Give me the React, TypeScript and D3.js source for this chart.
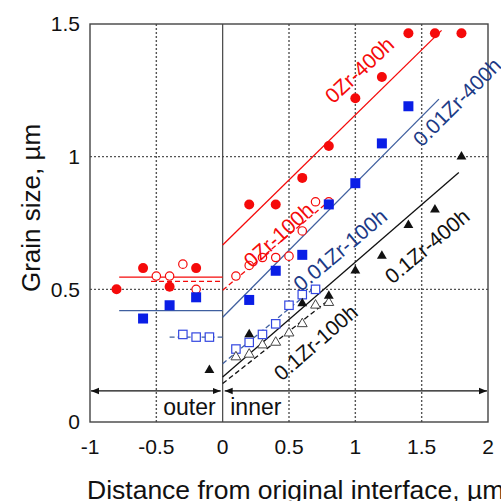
import React from "react";
import * as d3 from "d3";

// ---- data ----
const xTicks = [-1, -0.5, 0, 0.5, 1, 1.5, 2];
const yTicks = [0, 0.5, 1, 1.5];
const xGrid = [-0.5, 0.5, 1, 1.5];
const yGrid = [0.5, 1];

const zr0_400_x = [-0.8, -0.6, -0.4, -0.2, 0.2, 0.4, 0.6, 0.8, 1.0, 1.2, 1.4, 1.6, 1.8];
const zr0_400_y = [0.5, 0.58, 0.51, 0.58, 0.82, 0.82, 0.92, 1.04, 1.22, 1.3, 1.465, 1.465, 1.465];

const zr0_100_x = [-0.5, -0.4, -0.3, -0.2, 0.1, 0.2, 0.3, 0.4, 0.5, 0.6, 0.7, 0.8];
const zr0_100_y = [0.55, 0.55, 0.595, 0.5, 0.55, 0.59, 0.62, 0.62, 0.625, 0.72, 0.83, 0.83];

const zr001_400_x = [-0.6, -0.4, -0.2, 0.2, 0.4, 0.6, 0.8, 1.0, 1.2, 1.4];
const zr001_400_y = [0.39, 0.44, 0.47, 0.46, 0.57, 0.63, 0.82, 0.9, 1.05, 1.19];

const zr001_100_x = [-0.3, -0.2, -0.1, 0.1, 0.2, 0.3, 0.4, 0.5, 0.6, 0.7];
const zr001_100_y = [0.33, 0.32, 0.32, 0.275, 0.3, 0.33, 0.37, 0.44, 0.48, 0.5];

const zr01_400_x = [-0.1, 0.2, 0.6, 0.8, 1.0, 1.2, 1.4, 1.6, 1.8];
const zr01_400_y = [0.195, 0.33, 0.447, 0.475, 0.57, 0.626, 0.742, 0.8, 1.0];

const zr01_100_x = [0.1, 0.2, 0.3, 0.4, 0.5, 0.6, 0.7, 0.8];
const zr01_100_y = [0.245, 0.255, 0.29, 0.3, 0.335, 0.37, 0.44, 0.45];

// fit lines: [x1, y1, x2, y2]
const fit0_400_out = [-0.78, 0.546, 0, 0.546];
const fit0_400_in = [0, 0.667, 1.65, 1.476];
const fit0_100_out = [-0.54, 0.53, 0, 0.53];
const fit0_100_in = [0, 0.497, 0.82, 0.84];
const fit001_400_out = [-0.78, 0.42, 0, 0.42];
const fit001_400_in = [0, 0.395, 1.63, 1.217];
const fit001_100_out = [-0.4, 0.32, 0, 0.32];
const fit001_100_in = [0, 0.22, 0.7, 0.51];
const fit01_400_in = [0, 0.17, 1.78, 0.94];
const fit01_100_in = [0, 0.145, 0.8, 0.46];

const labelTexts = ["0Zr-400h", "0Zr-100h", "0.01Zr-400h", "0.01Zr-100h", "0.1Zr-400h", "0.1Zr-100h"];
const labelX = [1.03, 0.42, 1.765, 0.885, 1.54, 0.7];
const labelY = [1.327, 0.705, 1.206, 0.649, 0.663, 0.3];
const labelAngle = [-43, -42, -45, -40, -40, -41];

const arrowY = 0.117;
const regionLabels = ["outer", "inner"];
const regionX = [-0.25, 0.25];

const RED = "#f50a0a";
const BLUE_M = "#0a1ee6";
const BLUE_O = "#3347e0";
const BLUE_L = "#3f5f9f";
const BLUE_T = "#1c3a86";
const BLK = "#111";
const FONT = "'Liberation Sans', Arial, Helvetica, sans-serif";

const x = d3.scaleLinear().domain([-1, 2]).range([90, 488]);
const y = d3.scaleLinear().domain([0, 1.5]).range([422, 24]);

function Line({ f, color, dash }: { f: number[]; color: string; dash?: boolean }) {
  return (
    <line
      x1={x(f[0])}
      y1={y(f[1])}
      x2={x(f[2])}
      y2={y(f[3])}
      stroke={color}
      strokeWidth={1.3}
      strokeDasharray={dash ? "5,3" : undefined}
    />
  );
}

function pts(xs: number[], ys: number[]) {
  return xs.map((v, i) => [x(v), y(ys[i])]);
}

const tri = d3.symbol().type(d3.symbolTriangle).size(42);

export default function App() {
  return (
    <svg
      width={501}
      height={501}
      style={{ position: "absolute", left: 0, top: 0, background: "#fff" }}
      fontFamily={FONT}
    >
      <rect width={501} height={501} fill="#fff" />
      {/* grid */}
      {xGrid.map((g) => (
        <line key={"gx" + g} x1={x(g)} x2={x(g)} y1={y(0)} y2={y(1.5)} stroke="#555" strokeWidth={1.4} strokeDasharray="2,2" />
      ))}
      {yGrid.map((g) => (
        <line key={"gy" + g} x1={x(-1)} x2={x(2)} y1={y(g)} y2={y(g)} stroke="#555" strokeWidth={1.4} strokeDasharray="2,2" />
      ))}
      <line x1={x(0)} x2={x(0)} y1={y(0)} y2={y(1.5)} stroke="#444" strokeWidth={1.2} />
      <rect x={x(-1)} y={y(1.5)} width={x(2) - x(-1)} height={y(0) - y(1.5)} fill="none" stroke="#444" strokeWidth={1.4} />

      {/* ticks */}
      {xTicks.map((t) => (
        <text key={"xt" + t} x={x(t)} y={454} fontSize={21} textAnchor="middle" fill="#111">
          {String(t)}
        </text>
      ))}
      {yTicks.map((t) => (
        <text key={"yt" + t} x={80} y={y(t)} dy="0.35em" fontSize={21} textAnchor="end" fill="#111">
          {String(t)}
        </text>
      ))}
      <text x={87} y={499} fontSize={26.5} fill="#111">
        Distance from original interface, µm
      </text>
      <text transform={`translate(40,208) rotate(-90)`} fontSize={26} textAnchor="middle" fill="#111">
        Grain size, µm
      </text>

      {/* arrows */}
      <defs>
        <marker id="ah" viewBox="0 0 10 10" refX={10} refY={5} markerWidth={8} markerHeight={8} markerUnits="userSpaceOnUse" orient="auto-start-reverse">
          <path d="M0,1 L10,5 L0,9 z" fill="#111" />
        </marker>
      </defs>
      <line x1={x(-1) + 1} x2={x(0) - 2} y1={y(arrowY)} y2={y(arrowY)} stroke="#111" strokeWidth={1.2} markerStart="url(#ah)" markerEnd="url(#ah)" />
      <line x1={x(0) + 2} x2={x(2) - 1} y1={y(arrowY)} y2={y(arrowY)} stroke="#111" strokeWidth={1.2} markerStart="url(#ah)" markerEnd="url(#ah)" />
      {regionLabels.map((l, i) => (
        <text key={l} x={x(regionX[i])} y={415} fontSize={23} textAnchor="middle" fill="#111">
          {l}
        </text>
      ))}

      {/* fit lines */}
      <Line f={fit0_400_out} color={RED} />
      <Line f={fit0_400_in} color={RED} />
      <Line f={fit0_100_out} color={RED} dash />
      <Line f={fit0_100_in} color={RED} dash />
      <Line f={fit001_400_out} color={BLUE_L} />
      <Line f={fit001_400_in} color={BLUE_L} />
      <Line f={fit001_100_out} color={BLUE_L} dash />
      <Line f={fit001_100_in} color={BLUE_L} dash />
      <Line f={fit01_400_in} color={BLK} />
      <Line f={fit01_100_in} color={BLK} dash />

      {/* markers */}
      {pts(zr0_100_x, zr0_100_y).map(([px, py], i) => (
        <circle key={"oc" + i} cx={px} cy={py} r={4.2} fill="#fff" stroke={RED} strokeWidth={1.2} />
      ))}
      {pts(zr0_400_x, zr0_400_y).map(([px, py], i) => (
        <circle key={"fc" + i} cx={px} cy={py} r={5} fill={RED} />
      ))}
      {pts(zr001_100_x, zr001_100_y).map(([px, py], i) => (
        <rect key={"os" + i} x={px - 4.2} y={py - 4.2} width={8.4} height={8.4} fill="#fff" stroke={BLUE_O} strokeWidth={1.2} />
      ))}
      {pts(zr001_400_x, zr001_400_y).map(([px, py], i) => (
        <rect key={"fs" + i} x={px - 5} y={py - 5} width={10} height={10} fill={BLUE_M} />
      ))}
      {pts(zr01_100_x, zr01_100_y).map(([px, py], i) => (
        <path key={"ot" + i} d={tri() as string} transform={`translate(${px},${py})`} fill="#fff" stroke="#444" strokeWidth={1} />
      ))}
      {pts(zr01_400_x, zr01_400_y).map(([px, py], i) => (
        <path key={"ft" + i} d={tri() as string} transform={`translate(${px},${py})`} fill={BLK} />
      ))}

      {/* labels */}
      {labelTexts.map((t, i) => (
        <text
          key={t}
          transform={`translate(${x(labelX[i])},${y(labelY[i])}) rotate(${labelAngle[i]})`}
          fontSize={21}
          textAnchor="middle"
          dominantBaseline="central"
          fill={i < 2 ? RED : i < 4 ? BLUE_T : BLK}
        >
          {t}
        </text>
      ))}
    </svg>
  );
}
